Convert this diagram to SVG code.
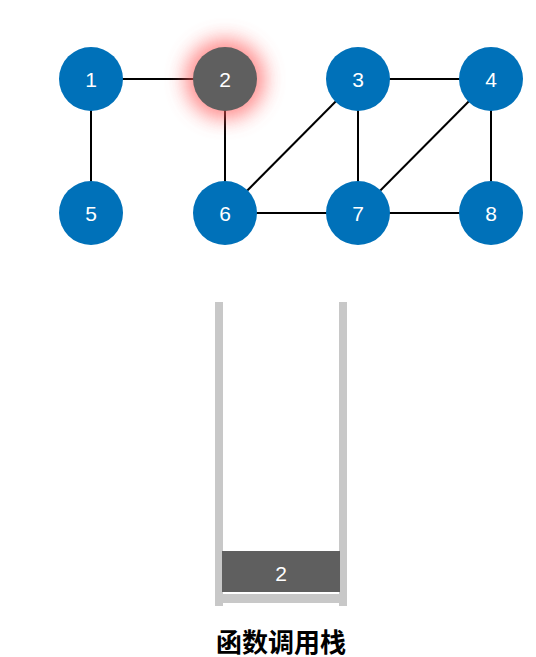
<svg xmlns="http://www.w3.org/2000/svg" width="536" height="657" viewBox="0 0 536 657">
<style>
.node{fill:#0071b9}
.cur{fill:#5f5f5f}
.lbl{font-family:"Liberation Sans",Arial,sans-serif;font-size:21px;fill:#fff;text-anchor:middle;dominant-baseline:central}
.edge{stroke:#000;stroke-width:2;fill:none}
.wall{fill:#c8c8c8}
</style>
<defs>
<filter id="blur" x="-100%" y="-100%" width="300%" height="300%">
<feGaussianBlur stdDeviation="10"/>
</filter>
</defs>
<rect width="536" height="657" fill="#fff"/>
<g id="connectors">
<line class="edge" x1="91" y1="79" x2="225" y2="79"/>
<line class="edge" x1="91" y1="79" x2="91" y2="213"/>
<line class="edge" x1="225" y1="79" x2="225" y2="213"/>
<line class="edge" x1="358" y1="79" x2="225" y2="213"/>
<line class="edge" x1="358" y1="79" x2="491" y2="79"/>
<line class="edge" x1="358" y1="79" x2="358" y2="213"/>
<line class="edge" x1="491" y1="79" x2="358" y2="213"/>
<line class="edge" x1="491" y1="79" x2="491" y2="213"/>
<line class="edge" x1="225" y1="213" x2="491" y2="213"/>
</g>
<circle cx="225" cy="79" r="40" fill="#ff5a5a" opacity="0.7" filter="url(#blur)"/>
<g id="node1"><circle class="node" cx="91" cy="79" r="32"/><text class="lbl" x="91" y="79">1</text></g>
<g id="node2"><circle class="cur" cx="225" cy="79" r="32"/><text class="lbl" x="225" y="79">2</text></g>
<g id="node3"><circle class="node" cx="358" cy="79" r="32"/><text class="lbl" x="358" y="79">3</text></g>
<g id="node4"><circle class="node" cx="491" cy="79" r="32"/><text class="lbl" x="491" y="79">4</text></g>
<g id="node5"><circle class="node" cx="91" cy="213" r="32"/><text class="lbl" x="91" y="213">5</text></g>
<g id="node6"><circle class="node" cx="225" cy="213" r="32"/><text class="lbl" x="225" y="213">6</text></g>
<g id="node7"><circle class="node" cx="358" cy="213" r="32"/><text class="lbl" x="358" y="213">7</text></g>
<g id="node8"><circle class="node" cx="491" cy="213" r="32"/><text class="lbl" x="491" y="213">8</text></g>
<g id="stack">
<rect class="wall" x="215" y="302" width="8" height="304"/>
<rect class="wall" x="339" y="302" width="8" height="304"/>
<rect class="wall" x="223" y="594" width="116" height="9"/>
<rect class="cur" x="222" y="551" width="118" height="41"/>
<text class="lbl" x="281" y="573">2</text>
<text x="281" y="640" font-family="'Noto Sans CJK SC',sans-serif" font-size="26" font-weight="bold" fill="#000" text-anchor="middle" dominant-baseline="central">函数调用栈</text>
</g>
</svg>
